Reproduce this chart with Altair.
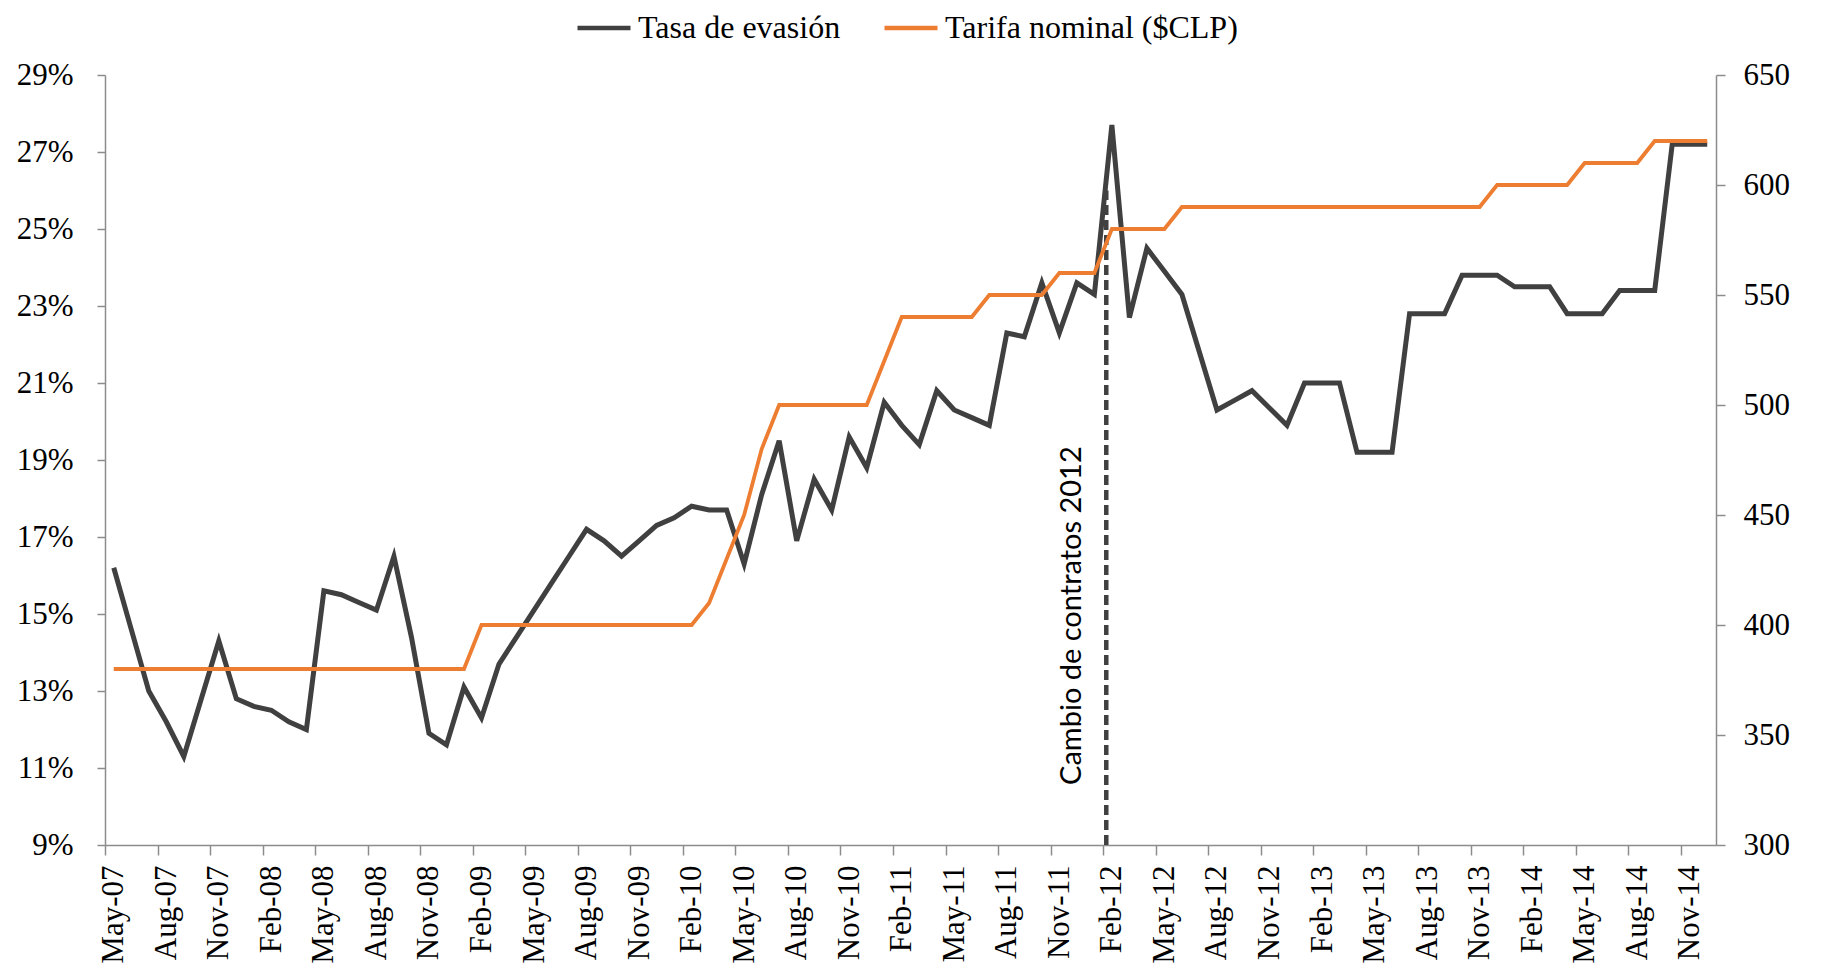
import altair as alt
import pandas as pd

# ---------------- data ----------------
months = pd.date_range("2007-05-01", periods=92, freq="MS").strftime("%b-%y").tolist()

evasion = [
    16.2, 14.6, 13.0, 12.2, 11.3, 12.8, 14.3, 12.8, 12.6, 12.5,
    12.2, 12.0, 15.6, 15.5, 15.3, 15.1, 16.5, 14.4, 11.9, 11.6,
    13.1, 12.3, 13.7, 14.4, 15.1, 15.8, 16.5, 17.2, 16.9, 16.5,
    16.9, 17.3, 17.5, 17.8, 17.7, 17.7, 16.3, 18.1, 19.5, 16.9,
    18.5, 17.7, 19.6, 18.8, 20.5, 19.9, 19.4, 20.8, 20.3, 20.1,
    19.9, 22.3, 22.2, 23.6, 22.3, 23.6, 23.3, 27.7, 22.7, 24.5,
    23.9, 23.3, 21.8, 20.3, 20.55, 20.8, 20.35, 19.9, 21.0, 21.0,
    21.0, 19.2, 19.2, 19.2, 22.8, 22.8, 22.8, 23.8, 23.8, 23.8,
    23.5, 23.5, 23.5, 22.8, 22.8, 22.8, 23.4, 23.4, 23.4, 27.2,
    27.2, 27.2,
]

tarifa = (
    [380] * 21 + [400] * 13 + [410, 430, 450, 480] + [500] * 6 + [520]
    + [540] * 5 + [550] * 4 + [560] * 3 + [580] * 4 + [590] * 18
    + [600] * 5 + [610] * 4 + [620] * 4
)

series_names = ["Tasa de evasión", "Tarifa nominal ($CLP)"]
series_colors = ["#404040", "#ED7D31"]

left_ticks = list(range(9, 30, 2))
right_ticks = list(range(300, 651, 50))
tick_labels = months[::3]

event_pos = [57.18]          # dashed line position (category units)
event_top = [26.0]           # dashed line top (percent)
note_pos = [55.22]
note_base = [10.56]
note_text = ["Cambio de contratos 2012"]

# ---------------- frames ----------------
pos = [i + 0.5 for i in range(len(months))]
df_ev = pd.DataFrame({"pos": pos, "month": months, "value": evasion, "series": series_names[0]})
df_ta = pd.DataFrame({"pos": pos, "month": months, "value": tarifa, "series": series_names[1]})
df_rule = pd.DataFrame({"pos": event_pos, "value": [9] * len(event_pos), "y1": event_top})
df_note = pd.DataFrame({"pos": note_pos, "value": note_base, "label": note_text})

AX_COLOR = "#8C8C8C"
SERIF = "Liberation Serif"

label_js = "[" + ",".join("'%s'" % t for t in tick_labels) + "][round(datum.value/3)]"

x_scale = alt.Scale(domain=[0, 92], nice=False, zero=False)
x_axis = alt.Axis(
    values=list(range(0, 91, 3)),
    labelExpr=label_js,
    labelAngle=270,
    labelAlign="right",
    labelBaseline="middle",
    labelOffset=8.75,
    tickSize=10,
    labelPadding=10,
    title=None,
    grid=False,
    labelOverlap=False,
    labelFlush=False,
    labelBound=False,
)


def x_enc():
    return alt.X("pos:Q", scale=x_scale, axis=x_axis)


left_scale = alt.Scale(domain=[9, 29], nice=False, zero=False)
right_scale = alt.Scale(domain=[300, 650], nice=False, zero=False)
left_axis = alt.Axis(
    values=left_ticks,
    labelExpr="datum.value + '%'",
    title=None,
    grid=False,
    tickSize=8,
    labelPadding=24,
)


def y_left():
    return alt.Y("value:Q", scale=left_scale, axis=left_axis)


color_enc = alt.Color(
    "series:N",
    scale=alt.Scale(domain=series_names, range=series_colors),
    legend=alt.Legend(
        title=None,
        orient="none",
        legendX=470,
        legendY=-76,
        direction="horizontal",
        symbolType="stroke",
        symbolSize=2809,
        symbolStrokeWidth=4.5,
        labelFont=SERIF,
        labelFontSize=32,
        labelColor="black",
        columnPadding=34,
        labelOffset=5,
        labelLimit=0,
    ),
)

black = alt.Chart(df_ev).mark_line(strokeWidth=5).encode(
    x=x_enc(),
    y=y_left(),
    color=color_enc,
)

rule = alt.Chart(df_rule).mark_rule(color="#404040", strokeWidth=4.5, strokeDash=[10, 5]).encode(
    x=x_enc(),
    y=y_left(),
    y2="y1:Q",
)

note = alt.Chart(df_note).mark_text(
    angle=270, align="left", baseline="middle", font="Lato", fontSize=29, color="black"
).encode(
    x=x_enc(),
    y=y_left(),
    text="label:N",
)

left_layer = alt.layer(black, rule, note)

orange = alt.Chart(df_ta).mark_line(strokeWidth=3.8).encode(
    x=x_enc(),
    y=alt.Y(
        "value:Q",
        scale=right_scale,
        axis=alt.Axis(
            orient="right",
            values=right_ticks,
            title=None,
            grid=False,
            tickSize=9,
            labelPadding=18,
        ),
    ),
    color=color_enc,
)

chart = (
    alt.layer(left_layer, orange)
    .resolve_scale(y="independent")
    .properties(
        width=1611,
        height=770,
        padding={"left": 97, "top": 67, "right": 95, "bottom": 119},
        autosize=alt.AutoSizeParams(type="none"),
    )
    .configure_view(stroke=None)
    .configure_axis(
        domainColor=AX_COLOR,
        tickColor=AX_COLOR,
        domainWidth=1.5,
        tickWidth=1.5,
        labelFont=SERIF,
        labelFontSize=31,
        labelColor="black",
    )
)

chart.save("out.html", embed_options={"renderer": "svg", "actions": False})
